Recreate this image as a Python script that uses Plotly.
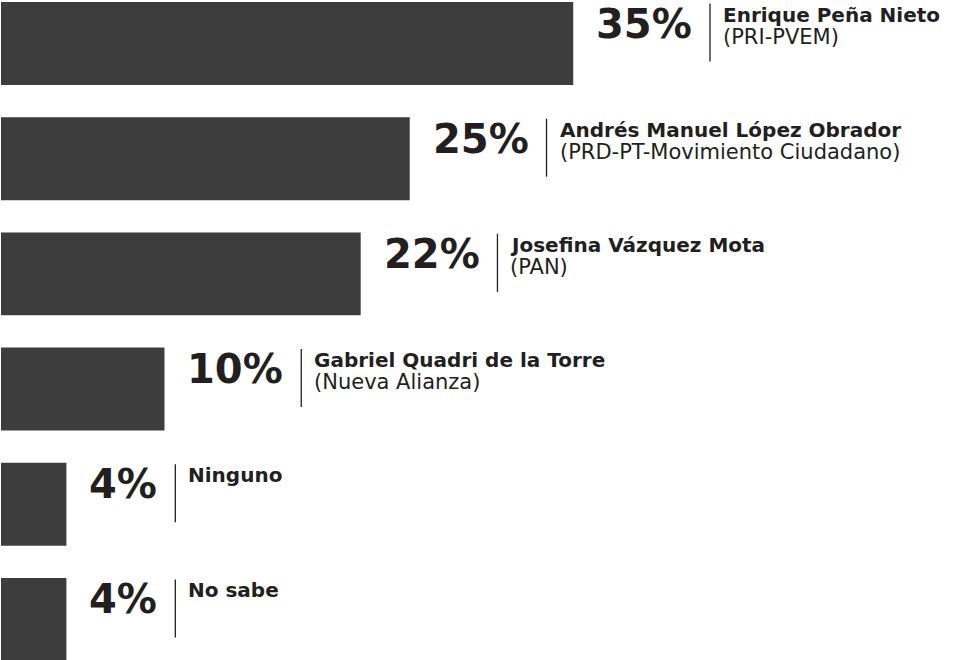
import plotly.graph_objects as go

# ---- data ----
candidates = ["Enrique Peña Nieto", "Andrés Manuel López Obrador", "Josefina Vázquez Mota",
              "Gabriel Quadri de la Torre", "Ninguno", "No sabe"]
parties = ["(PRI-PVEM)", "(PRD-PT-Movimiento Ciudadano)", "(PAN)", "(Nueva Alianza)", "", ""]
values = [35, 25, 22, 10, 4, 4]
value_labels = ["35%", "25%", "22%", "10%", "4%", "4%"]

BAR = "#3d3d3d"
INK = "#231f20"
PCT_SIZE = 40
NAME_SIZE = 20
PARTY_SIZE = 21

rows = list(range(len(values)))

fig = go.Figure(go.Bar(
    x=values, y=rows, orientation="h", width=0.72,
    marker=dict(color=BAR, line=dict(width=0)),
    hoverinfo="skip",
))

def pct_width(s):
    w = 0.0
    for ch in s:
        w += 1.002 if ch == "%" else 0.696
    return w * PCT_SIZE

annotations = []
shapes = []
for i, (v, lab, name, party) in enumerate(zip(values, value_labels, candidates, parties)):
    gap = 21
    line_off = gap + pct_width(lab) + 20
    annotations.append(dict(
        x=v, y=i, xref="x", yref="y", text=f"<b>{lab}</b>", showarrow=False,
        xanchor="left", yanchor="middle", xshift=gap, yshift=20,
        font=dict(family="DejaVu Sans", size=PCT_SIZE, color=INK),
    ))
    annotations.append(dict(
        x=v, y=i, xref="x", yref="y", text=f"<b>{name}</b>", showarrow=False,
        xanchor="left", yanchor="middle", xshift=line_off + 11, yshift=29,
        font=dict(family="DejaVu Sans", size=NAME_SIZE, color=INK),
    ))
    if party:
        annotations.append(dict(
            x=v, y=i, xref="x", yref="y", text=party, showarrow=False,
            xanchor="left", yanchor="middle", xshift=line_off + 11, yshift=7,
            font=dict(family="DejaVu Sans", size=PARTY_SIZE, color=INK),
        ))
    shapes.append(dict(
        type="line", xref="x", yref="y", xsizemode="pixel", ysizemode="pixel",
        xanchor=v, yanchor=i, x0=line_off, x1=line_off, y0=40, y1=-18,
        line=dict(color=INK, width=1.3),
    ))

fig.update_layout(
    width=955, height=660,
    margin=dict(l=0, r=0, t=0, b=0),
    paper_bgcolor="white", plot_bgcolor="white",
    showlegend=False,
    xaxis=dict(range=[-0.061, 58.35], visible=False, fixedrange=True),
    yaxis=dict(range=[5.352, -0.378], visible=False, fixedrange=True),
    annotations=annotations, shapes=shapes,
    bargap=0.28,
)

fig.write_html(
    "out.html",
    config={"displayModeBar": False},
    post_script="document.body.style.margin='0';document.body.style.overflow='hidden';",
)
